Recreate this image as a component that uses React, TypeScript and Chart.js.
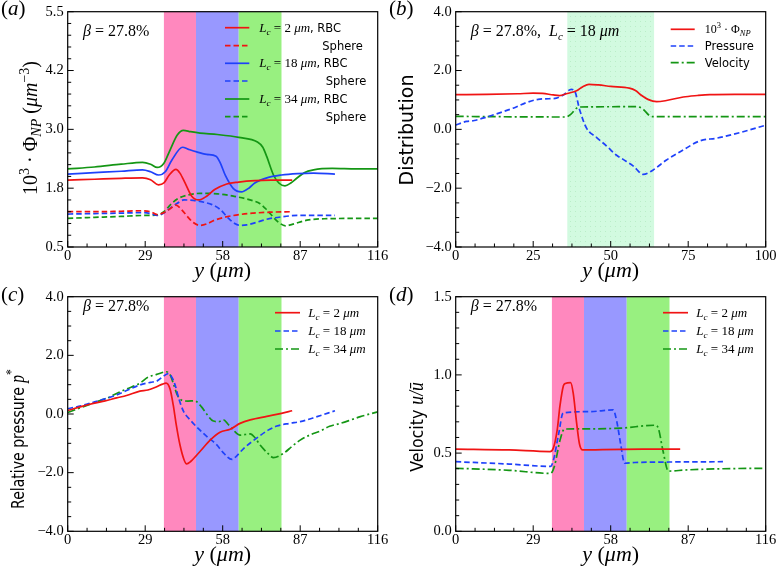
import React, { useEffect, useRef } from 'react';
import { Chart, registerables } from 'chart.js';

Chart.register(...registerables);

type Pt = [number, number];

// ---------------- shared values ----------------
const lcValues = [2, 18, 34];
const betaValue = '27.8%';
const zoneEdges = [36, 48, 64, 80];
const zoneEdgesB = [36, 64];

const yTicks116 = [0, 29, 58, 87, 116];
const yTickLabels116 = ['0', '29', '58', '87', '116'];
const xTicksB = [0, 25, 50, 75, 100];
const xTickLabelsB = ['0', '25', '50', '75', '100'];
const pTicks = [-4, -2, 0, 2, 4];
const pTickLabels = ['\u22124.0', '\u22122.0', '0.0', '2.0', '4.0'];

// ---------------- panel (a): 10^3 Phi_NP ----------------
const aYTicks = [0.5, 1.75, 3.0, 4.25, 5.5];
const aYTickLabels = ['0.5', '1.8', '3.0', '4.2', '5.5'];
const aRbc2: Pt[] = [[0,1.92],[10,1.94],[20,1.96],[28,1.97],[31,1.93],[34,1.82],[36,1.86],[38,2.03],[40.5,2.15],[42,2.07],[44,1.85],[46.4,1.58],[49,1.50],[52,1.58],[55,1.72],[59.5,1.84],[64,1.88],[70,1.91],[76,1.92],[84,1.92]];
const aSph2: Pt[] = [[0,1.25],[10,1.25],[20,1.26],[28,1.27],[31,1.25],[33.5,1.19],[36,1.23],[38.5,1.32],[40.5,1.39],[42.5,1.30],[44.6,1.16],[47,1.02],[49.5,0.96],[52,0.99],[55,1.07],[62,1.17],[69.5,1.22],[76,1.24],[84,1.25]];
const aRbc18: Pt[] = [[0,2.05],[10,2.08],[20,2.11],[28,2.14],[31,2.10],[34,2.03],[36.5,2.10],[39,2.35],[43,2.62],[45,2.58],[48.3,2.52],[52,2.47],[55.5,2.43],[57,2.30],[59,2.02],[62,1.74],[65,1.67],[68,1.76],[70,1.86],[74.5,1.97],[80,2.03],[86,2.06],[92,2.07],[100,2.05]];
const aSph18: Pt[] = [[0,1.20],[10,1.21],[20,1.22],[28,1.23],[31,1.21],[33.5,1.17],[36,1.22],[38.5,1.33],[41,1.43],[43.5,1.50],[47,1.49],[51,1.45],[54,1.40],[57,1.30],[60,1.12],[62.5,1.00],[64.5,0.96],[67,0.97],[71,1.03],[74.5,1.09],[80,1.14],[86,1.17],[100,1.17]];
const aRbc34: Pt[] = [[0,2.16],[10,2.20],[20,2.26],[28,2.30],[31,2.26],[33.5,2.19],[36,2.28],[38.3,2.56],[41,2.88],[43.3,2.98],[46,2.95],[49.5,2.92],[56,2.89],[64,2.83],[71,2.73],[73,2.62],[74.5,2.42],[77,2.03],[79,1.86],[81.3,1.80],[83.5,1.86],[85.7,1.96],[88.5,2.08],[92,2.14],[99,2.17],[108,2.16],[116,2.16]];
const aSph34: Pt[] = [[0,1.11],[10,1.13],[20,1.15],[28,1.17],[33.5,1.18],[36,1.25],[38.5,1.40],[41,1.52],[44.6,1.60],[49.5,1.64],[56,1.63],[62,1.58],[69.5,1.48],[72,1.42],[74.5,1.29],[77,1.13],[79,1.02],[81.5,0.95],[84,0.98],[89.5,1.07],[96,1.10],[116,1.11]];

// ---------------- panel (b): distributions, Lc = 18 ----------------
const bPhi: Pt[] = [[0,1.18],[10,1.19],[20,1.21],[25,1.23],[28,1.22],[31.5,1.17],[33.5,1.15],[36,1.22],[39,1.31],[41,1.45],[43,1.53],[46,1.51],[50,1.46],[56,1.40],[58,1.32],[60,1.15],[62,1.02],[64.8,0.94],[68,0.98],[73.4,1.10],[78,1.15],[82,1.18],[90,1.19],[100,1.19]];
const bPressure: Pt[] = [[0,0.15],[3.5,0.27],[6,0.30],[10,0.42],[15.3,0.60],[18.5,0.72],[22.8,0.91],[26.6,1.02],[30,1.04],[32.5,1.06],[34.7,1.17],[37.3,1.36],[38.4,1.30],[40,0.66],[42.2,0.04],[45.4,-0.27],[48.6,-0.56],[51.9,-0.88],[54,-1.02],[57.2,-1.24],[60.5,-1.53],[63.7,-1.38],[68,-1.04],[73.4,-0.70],[78.8,-0.39],[84.2,-0.30],[91.7,-0.11],[100,0.14]];
const bVelocity: Pt[] = [[0,0.44],[35.5,0.42],[37,0.50],[39,0.72],[40,0.76],[58.5,0.77],[60.5,0.68],[62.5,0.47],[64,0.43],[100,0.43]];

// ---------------- panel (c): relative pressure ----------------
const cP2: Pt[] = [[0,0.12],[5,0.25],[9.6,0.36],[14,0.45],[18.3,0.55],[22,0.63],[27,0.78],[30,0.82],[33.3,0.93],[35.5,1.02],[36.8,1.05],[38.3,0.85],[39.5,0.30],[40.5,-0.30],[42,-1.05],[43.5,-1.55],[44.5,-1.70],[46,-1.62],[49.5,-1.28],[53.3,-0.89],[57,-0.62],[60.8,-0.52],[64.5,-0.32],[68.3,-0.20],[74.5,-0.08],[80,0.02],[84,0.11]];
const cP18: Pt[] = [[0,0.18],[5,0.28],[9.6,0.40],[14,0.52],[18.3,0.65],[22,0.80],[27,0.99],[31,1.08],[33.3,1.12],[36,1.30],[37.6,1.38],[39,1.25],[40.2,0.99],[41.5,0.55],[43.3,0.10],[46,-0.22],[49.5,-0.55],[52.5,-0.80],[55.8,-1.05],[58,-1.30],[61.5,-1.55],[63,-1.45],[65.9,-1.17],[71.5,-0.77],[75,-0.55],[78.3,-0.41],[83,-0.32],[87,-0.26],[93,-0.10],[100,0.11]];
const cP34: Pt[] = [[0,0.05],[5,0.22],[10,0.39],[15,0.55],[18.3,0.70],[22,0.85],[27,1.05],[30,1.25],[33.3,1.35],[37,1.44],[38.5,1.30],[39.5,1.05],[41,0.65],[42.5,0.48],[45,0.44],[47.5,0.45],[50,0.25],[52,0.0],[54.5,-0.24],[56.5,-0.26],[58.3,-0.20],[60,-0.35],[62,-0.55],[64.5,-0.72],[66.5,-0.70],[68.3,-0.68],[70,-0.80],[72,-1.06],[75,-1.35],[77,-1.49],[80.8,-1.34],[84,-1.10],[87,-0.89],[91,-0.70],[94.5,-0.58],[98,-0.42],[102,-0.32],[106,-0.20],[109.5,-0.09],[116,0.07]];

// ---------------- panel (d): velocity ----------------
const dYTicks = [0, 0.5, 1.0, 1.5];
const dYTickLabels = ['0.0', '0.5', '1.0', '1.5'];
const dU2: Pt[] = [[0,0.526],[20,0.52],[35.3,0.51],[36.5,0.53],[38,0.65],[39,0.80],[40.3,0.93],[41,0.945],[43,0.95],[44,0.88],[45.2,0.70],[46.3,0.56],[47.5,0.52],[55,0.522],[70,0.525],[84,0.526]];
const dU18: Pt[] = [[0,0.445],[20,0.43],[35.5,0.415],[36.5,0.45],[38.5,0.62],[40.2,0.757],[50,0.765],[58.9,0.776],[60.3,0.70],[61.8,0.55],[63.2,0.435],[67,0.44],[80,0.443],[100,0.445]];
const dU34: Pt[] = [[0,0.403],[20,0.39],[35.5,0.37],[37,0.42],[39,0.58],[40.7,0.654],[50,0.655],[62,0.66],[74.6,0.678],[75.8,0.66],[77.5,0.52],[79.6,0.385],[86,0.392],[100,0.40],[115,0.403]];

// ---------------- styles ----------------
const W = 389;
const H = 287;
const RED = 'rgb(240,20,20)';
const BLUE = 'rgb(30,65,250)';
const GREEN = 'rgb(20,150,20)';
const SOLID: number[] = [];
const DASH = [5.5, 3];
const DASHDOT = [8, 3, 2, 3];
const ZONE_COLORS = ['rgb(255,136,190)', 'rgb(152,152,255)', 'rgb(152,240,128)'];
const MINT = 'rgb(210,250,224)';
const MINT_DOT = 'rgb(186,238,200)';
const SERIF = '"Liberation Serif", "DejaVu Serif", serif';
const SANS = '"DejaVu Sans", sans-serif';
const rm = (s: number) => `${s}px ${SERIF}`;
const it = (s: number) => `italic ${s}px ${SERIF}`;
const sf = (s: number) => `${s}px ${SANS}`;

type Seg = [string, string, number?];

function drawRich(ctx: CanvasRenderingContext2D, segs: Seg[], x: number, y: number, align = 'left', rot = 0, stretch = 1) {
  ctx.save();
  ctx.translate(x, y);
  if (rot) ctx.rotate(rot);
  if (stretch !== 1) ctx.scale(stretch, 1);
  let w = 0;
  for (const s of segs) { ctx.font = s[1]; w += ctx.measureText(s[0]).width; }
  let cx = align === 'center' ? -w / 2 : align === 'right' ? -w : 0;
  ctx.fillStyle = '#000';
  ctx.textAlign = 'left';
  ctx.textBaseline = 'alphabetic';
  for (const s of segs) {
    ctx.font = s[1];
    ctx.fillText(s[0], cx, s[2] || 0);
    cx += ctx.measureText(s[0]).width;
  }
  ctx.restore();
}

const lcSegs = (n: number, size: number): Seg[] => [
  ['L', it(size)], ['c', it(size * 0.7), size * 0.22], [` = ${n} `, rm(size)], ['\u03bcm', it(size)],
];
const xTitle = (size: number): Seg[] => [['y', it(size)], [' (', rm(size)], ['\u03bcm', it(size)], [')', rm(size)]];
const betaSegs: Seg[] = [['\u03b2', it(16)], [` = ${betaValue}`, rm(16)]];
const panelLabel = (l: string): Seg[] => [['(', rm(21)], [l, it(21)], [')', rm(21)]];

function minorValues(min: number, max: number, step: number, majors: number[]) {
  const out: number[] = [];
  const n = Math.round((max - min) / step);
  for (let i = 0; i <= n; i++) {
    const v = min + i * step;
    if (!majors.some((m) => Math.abs(m - v) < step * 0.01)) out.push(v);
  }
  return out;
}

let patternCache: any = null;
function mintPattern(ctx: CanvasRenderingContext2D) {
  if (patternCache) return patternCache;
  const c = document.createElement('canvas');
  c.width = 5; c.height = 5;
  const g = c.getContext('2d')!;
  g.fillStyle = MINT; g.fillRect(0, 0, 5, 5);
  g.fillStyle = MINT_DOT; g.fillRect(1, 1, 1, 1);
  patternCache = ctx.createPattern(c, 'repeat');
  return patternCache;
}

function decoPlugin(c: any) {
  return {
    id: 'deco' + c.id,
    beforeDatasetsDraw(chart: any) {
      const { ctx, chartArea: a, scales } = chart;
      ctx.save();
      for (const b of c.bands) {
        const x0 = scales.x.getPixelForValue(b.from);
        const x1 = scales.x.getPixelForValue(b.to);
        ctx.fillStyle = b.pattern ? mintPattern(ctx) : b.color;
        ctx.fillRect(x0, a.top, x1 - x0, a.bottom - a.top);
      }
      ctx.restore();
    },
    afterDatasetsDraw(chart: any) {
      const { ctx, chartArea: a, scales } = chart;
      const xs = scales.x;
      const ys = scales.y;
      ctx.save();
      ctx.setLineDash([]);
      ctx.strokeStyle = '#000';
      ctx.lineWidth = 1;
      ctx.beginPath();
      const tx = (vals: number[], len: number) => vals.forEach((v) => {
        const p = xs.getPixelForValue(v); ctx.moveTo(p, a.bottom); ctx.lineTo(p, a.bottom - len);
      });
      const ty = (vals: number[], len: number) => vals.forEach((v) => {
        const p = ys.getPixelForValue(v); ctx.moveTo(a.left, p); ctx.lineTo(a.left + len, p);
      });
      tx(c.xTicks, 6);
      ty(c.yTicks, 6);
      tx(minorValues(c.xMin, c.xMax, c.xMinor, c.xTicks), 3.5);
      ty(minorValues(c.yMin, c.yMax, c.yMinor, c.yTicks), 3.5);
      ctx.stroke();
      ctx.lineWidth = 1.2;
      ctx.strokeRect(a.left, a.top, a.right - a.left, a.bottom - a.top);
      ctx.restore();
    },
    afterDraw(chart: any) {
      const { ctx } = chart;
      for (const t of c.texts) drawRich(ctx, t.segs, t.x, t.y, t.align || 'left', t.rot || 0, t.stretch || 1);
      const lg = c.legend;
      lg.items.forEach((item: any, i: number) => {
        const ds = chart.data.datasets[item.ds];
        const y = lg.rows[i];
        ctx.save();
        ctx.strokeStyle = ds.borderColor;
        ctx.lineWidth = ds.borderWidth;
        ctx.setLineDash(ds.borderDash || []);
        ctx.beginPath();
        ctx.moveTo(lg.x1, y);
        ctx.lineTo(lg.x2, y);
        ctx.stroke();
        ctx.restore();
        drawRich(ctx, item.segs, item.tx != null ? item.tx : lg.tx, y + 4);
      });
    },
  };
}

function buildConfig(c: any) {
  const tickFont = { family: SERIF, size: 14.5 };
  return {
    type: 'line',
    data: {
      datasets: c.series.map((s: any) => ({
        label: s.label,
        data: s.data.map((p: Pt) => ({ x: p[0], y: p[1] })),
        borderColor: s.color,
        borderWidth: 1.7,
        borderDash: s.dash,
        pointRadius: 0,
        fill: false,
        cubicInterpolationMode: 'monotone',
      })),
    },
    options: {
      responsive: false,
      animation: false,
      devicePixelRatio: 1,
      events: [],
      layout: { padding: { left: 0, top: c.plot.t, right: W - c.plot.r, bottom: 0 } },
      plugins: { legend: { display: false }, tooltip: { enabled: false }, title: { display: false } },
      scales: {
        x: {
          type: 'linear', min: c.xMin, max: c.xMax, bounds: 'data',
          grid: { display: false, drawTicks: false }, border: { display: false },
          ticks: { autoSkip: false, maxRotation: 0, minRotation: 0, padding: 0, font: tickFont, color: '#000',
            callback: (_v: any, i: number) => c.xTickLabels[i] },
          afterBuildTicks: (s: any) => { s.ticks = c.xTicks.map((v: number) => ({ value: v })); },
          afterFit: (s: any) => { s.height = H - c.plot.b; s.paddingLeft = 0; s.paddingRight = 0; },
        },
        y: {
          type: 'linear', min: c.yMin, max: c.yMax, bounds: 'data',
          grid: { display: false, drawTicks: false }, border: { display: false },
          ticks: { autoSkip: false, padding: 4, font: tickFont, color: '#000',
            callback: (_v: any, i: number) => c.yTickLabels[i] },
          afterBuildTicks: (s: any) => { s.ticks = c.yTicks.map((v: number) => ({ value: v })); },
          afterFit: (s: any) => { s.width = c.plot.l; s.paddingTop = 0; s.paddingBottom = 0; },
        },
      },
    },
    plugins: [decoPlugin(c)],
  };
}

const zoneBands = [0, 1, 2].map((i) => ({ from: zoneEdges[i], to: zoneEdges[i + 1], color: ZONE_COLORS[i] }));
const ROT = -Math.PI / 2;

const panels: any[] = [
  {
    id: 'a', left: 0, top: 0,
    plot: { l: 67.7, r: 377.7, t: 11.7, b: 247 },
    xMin: 0, xMax: 116, yMin: 0.5, yMax: 5.5, xMinor: 7.25, yMinor: 0.25,
    xTicks: yTicks116, xTickLabels: yTickLabels116, yTicks: aYTicks, yTickLabels: aYTickLabels,
    bands: zoneBands,
    series: [
      { data: aRbc2, color: RED, dash: SOLID, label: `Lc = ${lcValues[0]} \u03bcm, RBC` },
      { data: aSph2, color: RED, dash: DASH, label: 'Sphere' },
      { data: aRbc18, color: BLUE, dash: SOLID, label: `Lc = ${lcValues[1]} \u03bcm, RBC` },
      { data: aSph18, color: BLUE, dash: DASH, label: 'Sphere' },
      { data: aRbc34, color: GREEN, dash: SOLID, label: `Lc = ${lcValues[2]} \u03bcm, RBC` },
      { data: aSph34, color: GREEN, dash: DASH, label: 'Sphere' },
    ],
    legend: {
      x1: 225, x2: 249.3, tx: 259.3, rows: [27.7, 45.7, 63.3, 81, 99, 116.7],
      items: [
        { ds: 0, segs: [...lcSegs(lcValues[0], 13), [', RBC', sf(11.5)]] },
        { ds: 1, segs: [['Sphere', sf(11.5)]], tx: 322.3 },
        { ds: 2, segs: [...lcSegs(lcValues[1], 13), [', RBC', sf(11.5)]] },
        { ds: 3, segs: [['Sphere', sf(11.5)]], tx: 325.7 },
        { ds: 4, segs: [...lcSegs(lcValues[2], 13), [', RBC', sf(11.5)]] },
        { ds: 5, segs: [['Sphere', sf(11.5)]], tx: 325.7 },
      ],
    },
    texts: [
      { segs: panelLabel('a'), x: 1, y: 15 },
      { segs: betaSegs, x: 83, y: 36 },
      { segs: [['10', rm(20)], ['3', rm(14), -8], [' \u00b7 ', rm(20)], ['\u03a6', rm(20)], ['NP', it(14), 4], [' (', rm(20)], ['\u03bcm', it(20)], ['\u22123', rm(14), -8], [')', rm(20)]], x: 37, y: 128, align: 'center', rot: ROT },
      { segs: xTitle(22), x: 222.7, y: 277, align: 'center' },
    ],
  },
  {
    id: 'b', left: 389, top: 0,
    plot: { l: 66.7, r: 376.7, t: 11.7, b: 247 },
    xMin: 0, xMax: 100, yMin: -4, yMax: 4, xMinor: 6.25, yMinor: 0.5,
    xTicks: xTicksB, xTickLabels: xTickLabelsB, yTicks: pTicks, yTickLabels: pTickLabels,
    bands: [{ from: zoneEdgesB[0], to: zoneEdgesB[1], pattern: true }],
    series: [
      { data: bPhi, color: RED, dash: SOLID, label: '10^3 \u00b7 \u03a6NP' },
      { data: bPressure, color: BLUE, dash: DASH, label: 'Pressure' },
      { data: bVelocity, color: GREEN, dash: DASHDOT, label: 'Velocity' },
    ],
    legend: {
      x1: 281.7, x2: 305.7, tx: 315.7, rows: [29.3, 46, 62.7],
      items: [
        { ds: 0, segs: [['10', rm(12)], ['3', rm(8.5), -5], [' \u00b7 \u03a6', rm(12)], ['NP', it(8.5), 2.5]] },
        { ds: 1, segs: [['Pressure', sf(11.5)]] },
        { ds: 2, segs: [['Velocity', sf(11.5)]] },
      ],
    },
    texts: [
      { segs: panelLabel('b'), x: 0, y: 15 },
      { segs: [['\u03b2', it(16)], [` = ${betaValue},  `, rm(16)], ['L', it(16)], ['c', it(11), 3.5], [` = ${lcValues[1]} `, rm(16)], ['\u03bcm', it(16)]], x: 81.7, y: 36 },
      { segs: [['Distribution', sf(20)]], x: 23.6, y: 130, align: 'center', rot: ROT, stretch: 0.95 },
      { segs: xTitle(22), x: 221.7, y: 277, align: 'center' },
    ],
  },
  {
    id: 'c', left: 0, top: 287,
    plot: { l: 67.7, r: 377.7, t: 9.7, b: 244.3 },
    xMin: 0, xMax: 116, yMin: -4, yMax: 4, xMinor: 7.25, yMinor: 0.5,
    xTicks: yTicks116, xTickLabels: yTickLabels116, yTicks: pTicks, yTickLabels: pTickLabels,
    bands: zoneBands,
    series: [
      { data: cP2, color: RED, dash: SOLID, label: `Lc = ${lcValues[0]} \u03bcm` },
      { data: cP18, color: BLUE, dash: DASH, label: `Lc = ${lcValues[1]} \u03bcm` },
      { data: cP34, color: GREEN, dash: DASHDOT, label: `Lc = ${lcValues[2]} \u03bcm` },
    ],
    legend: {
      x1: 275, x2: 300, tx: 308.3, rows: [25.7, 44, 62],
      items: [0, 1, 2].map((i) => ({ ds: i, segs: lcSegs(lcValues[i], 13) })),
    },
    texts: [
      { segs: panelLabel('c'), x: 1, y: 14 },
      { segs: betaSegs, x: 83, y: 24 },
      { segs: [['Relative pressure ', sf(18)], ['p', it(20)], ['*', rm(15), -8]], x: 23.5, y: 152, align: 'center', rot: ROT, stretch: 0.78 },
      { segs: xTitle(22), x: 222.7, y: 273.5, align: 'center' },
    ],
  },
  {
    id: 'd', left: 389, top: 287,
    plot: { l: 66.7, r: 376.7, t: 9.7, b: 244.3 },
    xMin: 0, xMax: 116, yMin: 0, yMax: 1.5, xMinor: 7.25, yMinor: 0.1,
    xTicks: yTicks116, xTickLabels: yTickLabels116, yTicks: dYTicks, yTickLabels: dYTickLabels,
    bands: zoneBands,
    series: [
      { data: dU2, color: RED, dash: SOLID, label: `Lc = ${lcValues[0]} \u03bcm` },
      { data: dU18, color: BLUE, dash: DASH, label: `Lc = ${lcValues[1]} \u03bcm` },
      { data: dU34, color: GREEN, dash: DASHDOT, label: `Lc = ${lcValues[2]} \u03bcm` },
    ],
    legend: {
      x1: 274, x2: 299, tx: 307.3, rows: [25.7, 44, 62],
      items: [0, 1, 2].map((i) => ({ ds: i, segs: lcSegs(lcValues[i], 13) })),
    },
    texts: [
      { segs: panelLabel('d'), x: 0, y: 14 },
      { segs: betaSegs, x: 81.7, y: 24 },
      { segs: [['Velocity ', sf(18)], ['u/\u016b', it(20)]], x: 34, y: 140, align: 'center', rot: ROT, stretch: 0.88 },
      { segs: xTitle(22), x: 221.7, y: 273.5, align: 'center' },
    ],
  },
];

function Panel({ cfg }: { cfg: any }) {
  const ref = useRef<HTMLCanvasElement>(null);
  useEffect(() => {
    const chart = new Chart(ref.current as HTMLCanvasElement, buildConfig(cfg) as any);
    return () => chart.destroy();
  }, [cfg]);
  return (
    <canvas
      ref={ref}
      width={W}
      height={H}
      style={{ position: 'absolute', left: cfg.left, top: cfg.top, width: W, height: H }}
    />
  );
}

export default function App() {
  return (
    <div style={{ position: 'fixed', left: 0, top: 0, width: 778, height: 574, background: '#fff', overflow: 'hidden' }}>
      {panels.map((p) => (
        <Panel key={p.id} cfg={p} />
      ))}
    </div>
  );
}
